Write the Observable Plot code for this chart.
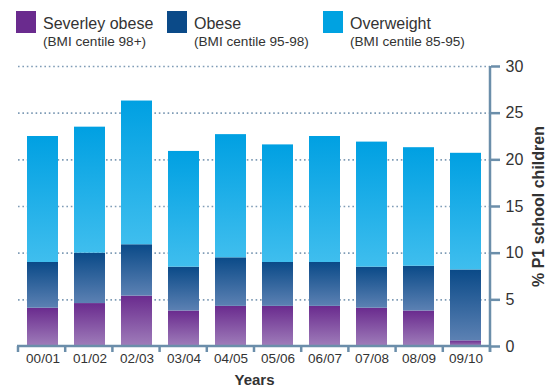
<!DOCTYPE html>
<html>
<head>
<meta charset="utf-8">
<script src="https://cdn.jsdelivr.net/npm/d3@7"></script>
<script src="https://cdn.jsdelivr.net/npm/@observablehq/plot@0.6"></script>
<style>
  body { margin: 0; background: #fff; font-family: "Liberation Sans", Arial, sans-serif; color: #333; }
  #legend { position: relative; height: 52px; width: 557px; }
  .item { position: absolute; top: 11px; }
  .sw { position: absolute; left: 0; top: 0; width: 20px; height: 22px; }
  .t1 { position: absolute; left: 27px; top: 4.5px; font-size: 16px; line-height: 1; white-space: nowrap; color: #333; }
  .t2 { position: absolute; left: 27px; top: 23.5px; font-size: 13.6px; line-height: 1; white-space: nowrap; color: #333; }
  #chart svg { display: block; }
</style>
</head>
<body>
<div id="legend"></div>
<div id="chart"></div>
<script>
// School years (P1 measurement)
const years = ["00/01", "01/02", "02/03", "03/04", "04/05", "05/06", "06/07", "07/08", "08/09", "09/10"];

// Percentage of P1 children in each BMI band
const severelyObese = [4.1, 4.6, 5.4, 3.8, 4.3, 4.3, 4.3, 4.1, 3.8, 0.6];
const obese         = [4.9, 5.4, 5.5, 4.7, 5.2, 4.7, 4.7, 4.4, 4.8, 7.6];
const overweight    = [13.5, 13.5, 15.4, 12.4, 13.2, 12.6, 13.5, 13.4, 12.7, 12.5];

const seriesNames = ["Severley obese", "Obese", "Overweight"];
const seriesNotes = ["(BMI centile 98+)", "(BMI centile 95-98)", "(BMI centile 85-95)"];
const swatchColors = ["#6a2b8e", "#0b4a88", "#00a2e1"];

const yTicks = [0, 5, 10, 15, 20, 25, 30];
const gridTicks = [5, 10, 15, 20, 25, 30];
const xTitle = "Years";
const yTitle = "% P1 school children";

const axisColor = "#6b8eaa";
const gridColor = "#7f9cb6";

// Vertical gradient for each band: darker at the top of a segment, lighter below
const gradients = [
  {id: "grad-severe", top: "#6a2b8e", bottom: "#9f7dba"},
  {id: "grad-obese", top: "#0a4a88", bottom: "#5c81b3"},
  {id: "grad-over", top: "#00a0e2", bottom: "#3fbeee"}
];

// Legend
const legend = d3.select("#legend");
const legendLeft = [16, 167, 323];
seriesNames.forEach((name, i) => {
  const it = legend.append("div").attr("class", "item").style("left", legendLeft[i] + "px");
  it.append("div").attr("class", "sw").style("background", swatchColors[i]);
  it.append("div").attr("class", "t1").text(name);
  it.append("div").attr("class", "t2").text(seriesNotes[i]);
});

// Long table for stacking: severe at the bottom, then obese, then overweight
const values = [severelyObese, obese, overweight];
const rows = [];
years.forEach((year, j) => {
  seriesNames.forEach((s, i) => rows.push({year, series: s, value: values[i][j]}));
});

// Axis lines and the tick marks that separate the year bands
function axisLines(index, scales, vals, dimensions) {
  const {width, marginLeft, marginRight} = dimensions;
  const y = scales.y;
  const step = (width - marginLeft - marginRight) / years.length;
  const g = d3.create("svg:g")
    .attr("stroke", axisColor)
    .attr("stroke-width", 2.5)
    .attr("fill", "none");
  const y0 = y(0);
  const right = width - marginRight;
  g.append("line").attr("x1", marginLeft - 1).attr("x2", right + 1).attr("y1", y0).attr("y2", y0);
  g.append("line").attr("x1", right).attr("x2", right).attr("y1", y(30)).attr("y2", y0 + 6);
  for (let i = 0; i <= years.length; i++) {
    const bx = marginLeft + i * step;
    g.append("line").attr("x1", bx).attr("x2", bx).attr("y1", y0).attr("y2", y0 + 6);
  }
  return g.node();
}

const plot = Plot.plot({
  width: 557,
  height: 335,
  marginLeft: 18,
  marginRight: 67,
  marginTop: 14,
  marginBottom: 41,
  style: {fontFamily: "'Liberation Sans', Arial, sans-serif", color: "#333", background: "white", overflow: "visible"},
  x: {domain: years, paddingInner: 0.345, paddingOuter: 0.1725, axis: null},
  y: {domain: [0, 30], axis: null},
  color: {domain: seriesNames, range: gradients.map(g => `url(#${g.id})`)},
  marks: [
    Plot.ruleY(gridTicks, {stroke: gridColor, strokeWidth: 1.6, strokeDasharray: "1.6 2.8"}),
    Plot.barY(rows, Plot.stackY({x: "year", y: "value", fill: "series", order: null})),
    Plot.axisX({tickSize: 0, tickPadding: 7, fontSize: 13.5, label: null, fill: "#333"}),
    Plot.axisY({anchor: "right", ticks: yTicks, tickSize: 9, tickPadding: 6, fontSize: 16,
                stroke: axisColor, strokeWidth: 2.5, fill: "#333", label: null}),
    axisLines,
    Plot.text([xTitle], {frameAnchor: "bottom", textAnchor: "middle", lineAnchor: "middle", dy: 34,
                         fontWeight: "bold", fontSize: 15, fill: "#333"}),
    Plot.text([yTitle], {frameAnchor: "right", textAnchor: "middle", lineAnchor: "middle", rotate: -90, dx: 48,
                         fontWeight: "bold", fontSize: 16, fill: "#333"})
  ]
});

const svg = d3.select(plot);
const defs = svg.insert("defs", ":first-child");
gradients.forEach(g => {
  const lg = defs.append("linearGradient").attr("id", g.id)
    .attr("x1", 0).attr("y1", 0).attr("x2", 0).attr("y2", 1);
  lg.append("stop").attr("offset", "0%").attr("stop-color", g.top);
  lg.append("stop").attr("offset", "100%").attr("stop-color", g.bottom);
});

document.getElementById("chart").appendChild(plot);
</script>
</body>
</html>
